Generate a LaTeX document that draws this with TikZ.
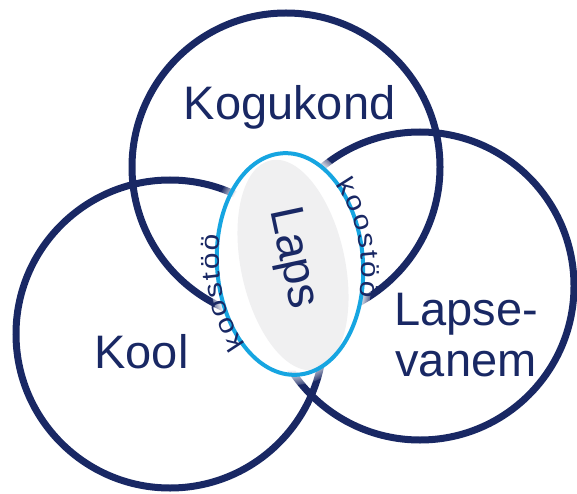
\documentclass[tikz,border=0pt]{standalone}
\usepackage{fontspec}
\setmainfont{Liberation Sans}
\newfontfamily\koosfont[FakeStretch=1.15]{Liberation Sans}
\usetikzlibrary{shapes.geometric,decorations.text,fadings}
\definecolor{navy}{RGB}{25,40,100}
\definecolor{sky}{RGB}{22,165,225}
\definecolor{haze}{RGB}{239,239,240}
\newcommand{\bigtext}{\fontsize{47}{51}\selectfont}
\newcommand{\smalltext}{\koosfont\fontsize{26}{28}\selectfont}

\begin{document}
\begin{tikzpicture}[x=1pt,y=-1pt]
	\tikzstyle{ring} = [draw=navy,line width=7pt,circle,inner sep=0pt,minimum size=308pt]
	\tikzstyle{label} = [text=navy,font=\bigtext,inner sep=0pt]
	\tikzstyle{oval} = [ellipse,inner sep=0pt]
	\tikzstyle{along} = [decorate,decoration={text along path,text color=navy,text align={fit to path},raise=-2pt,text={|\smalltext|koostöö}}]
	\useasboundingbox (0,0) rectangle (577,494);
	% the three circles
	\node (community) [ring] at (286,167) {};
	\node (school) [ring] at (170,334) {};
	\node (parent) [ring] at (420,286) {};
	% the child in the middle
	\node (glow) [oval,fill=white,path fading=circle with fuzzy edge 15 percent,minimum width=164pt,minimum height=242pt,rotate=4] at (290,264) {};
	\node (core) [oval,fill=haze,fill opacity=0.92,minimum width=104pt,minimum height=214pt,rotate=12] at (293,265) {};
	\node (child) [oval,draw=sky,line width=4pt,minimum width=146pt,minimum height=222pt,rotate=4] at (290,264) {};
	\node (communitylabel) [label,anchor=base] at (289.5,120) {Kogukond};
	\node (schoollabel) [label,anchor=base] at (141.5,368) {Kool};
	\node (parentlabel) [label,align=center] at (466,335) {Lapse-\\vanem};
	\node (childlabel) [label,rotate=-78] at (292,258) {Laps};
	\begin{scope}[shift={(child.center)},x=1pt,y=1pt,rotate=4]
		\path[along] (225:73 and 111) arc[start angle=225,end angle=162,x radius=73,y radius=111];
		\path[along] (44:73 and 111) arc[start angle=44,end angle=-20,x radius=73,y radius=111];
	\end{scope}
\end{tikzpicture}
\end{document}
